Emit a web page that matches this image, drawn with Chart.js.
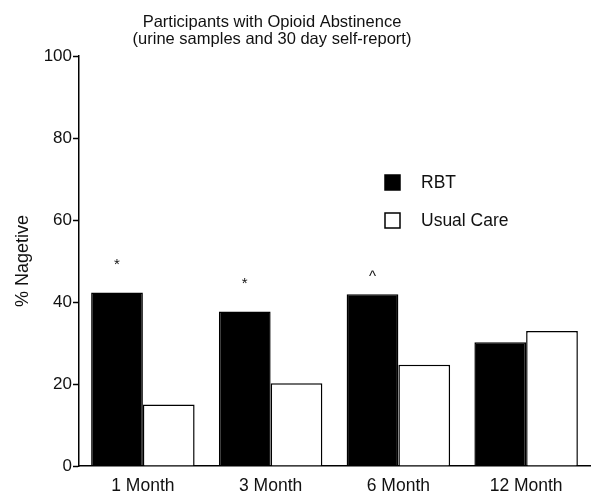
<!DOCTYPE html>
<html>
<head>
<meta charset="utf-8">
<script src="https://cdn.jsdelivr.net/npm/chart.js@4.4.0/dist/chart.umd.min.js"></script>
<style>
  html, body { margin: 0; padding: 0; background: #fff; }
  #wrap { width: 592px; height: 494px; }
</style>
</head>
<body>
<div id="wrap"><canvas id="canvas"></canvas></div>
<script>
    var months = ["1 Month", "3 Month", "6 Month", "12 Month"];
    var rbt = [42.3, 37.7, 41.9, 30.2];
    var usualCare = [15.0, 20.2, 24.7, 32.9];
    var sigMarks = ["*", "*", "^", ""];
    var yTicks = [0, 20, 40, 60, 80, 100];
    var titleLines = ["Participants with Opioid Abstinence", "(urine samples and 30 day self-report)"];

    Chart.defaults.font.family = '"Liberation Sans", Arial, Helvetica, sans-serif';
    Chart.defaults.color = '#111';

    // title, significance marks above the RBT bars, and the in-plot legend
    var extras = {
        id: 'extras',
        afterDatasetsDraw: function(chart, args, opts) {
            var ctx = chart.ctx;
            var fam = Chart.defaults.font.family;
            ctx.save();
            ctx.fillStyle = '#111';

            ctx.font = '16.5px ' + fam;
            ctx.textAlign = 'center';
            ctx.textBaseline = 'alphabetic';
            titleLines.forEach(function(t, i) {
                ctx.fillText(t, opts.titleX, opts.titleY + i * opts.titleLeading);
            });

            var meta = chart.getDatasetMeta(0);
            ctx.textBaseline = 'middle';
            meta.data.forEach(function(bar, i) {
                var m = sigMarks[i];
                if (!m) return;
                ctx.font = (m === '^' ? '15px ' : '15px ') + fam;
                var gap = m === '^' ? 17 : 28;
                ctx.fillText(m, bar.x, bar.y - gap);
            });

            ctx.textAlign = 'left';
            ctx.font = '17.5px ' + fam;
            chart.data.datasets.forEach(function(ds, i) {
                var y = opts.legendY + i * opts.legendGap;
                ctx.fillStyle = ds.backgroundColor;
                ctx.fillRect(opts.legendX, y, 15, 15);
                ctx.strokeStyle = '#000';
                ctx.lineWidth = 1.5;
                ctx.strokeRect(opts.legendX, y, 15, 15);
                ctx.fillStyle = '#111';
                ctx.fillText(ds.label, opts.legendX + 36, y + 8);
            });
            ctx.restore();
        }
    };

    var config = {
        type: 'bar',
        data: {
            labels: months,
            datasets: [{
                label: "RBT",
                data: rbt,
                backgroundColor: "#000",
                borderColor: "#000",
                borderWidth: 1.5
            }, {
                label: "Usual Care",
                data: usualCare,
                backgroundColor: "#fff",
                borderColor: "#000",
                borderWidth: 1.5
            }]
        },
        options: {
            responsive: true,
            maintainAspectRatio: false,
            animation: false,
            categoryPercentage: 0.81,
            barPercentage: 1.0,
            layout: { padding: { left: 0, right: 2, top: 56, bottom: 0 } },
            plugins: {
                legend: { display: false },
                tooltip: { enabled: false },
                extras: {
                    titleX: 272, titleY: 26.5, titleLeading: 17,
                    legendX: 385, legendY: 175, legendGap: 38
                }
            },
            scales: {
                x: {
                    grid: { display: false, drawTicks: false },
                    border: { display: true, color: '#000', width: 1.5 },
                    ticks: { color: '#111', font: { size: 17.5 }, padding: 10 },
                    afterFit: function(s) { s.height = 28; }
                },
                y: {
                    min: yTicks[0],
                    max: yTicks[yTicks.length - 1],
                    afterBuildTicks: function(s) {
                        s.ticks = yTicks.map(function(v) { return { value: v }; });
                    },
                    grid: { drawOnChartArea: false, drawTicks: true, tickLength: 6, tickColor: '#000', tickWidth: 1.5 },
                    border: { display: true, color: '#000', width: 1.5 },
                    ticks: { color: '#111', font: { size: 17 }, padding: 1 },
                    title: { display: true, text: '% Nagetive', color: '#111', font: { size: 18 }, padding: { top: 12, bottom: 0 } },
                    afterFit: function(s) { s.width = 79; }
                }
            }
        },
        plugins: [extras]
    };

    window.onload = function() {
        window.myBar = new Chart(document.getElementById("canvas"), config);
    };
</script>
</body>
</html>
